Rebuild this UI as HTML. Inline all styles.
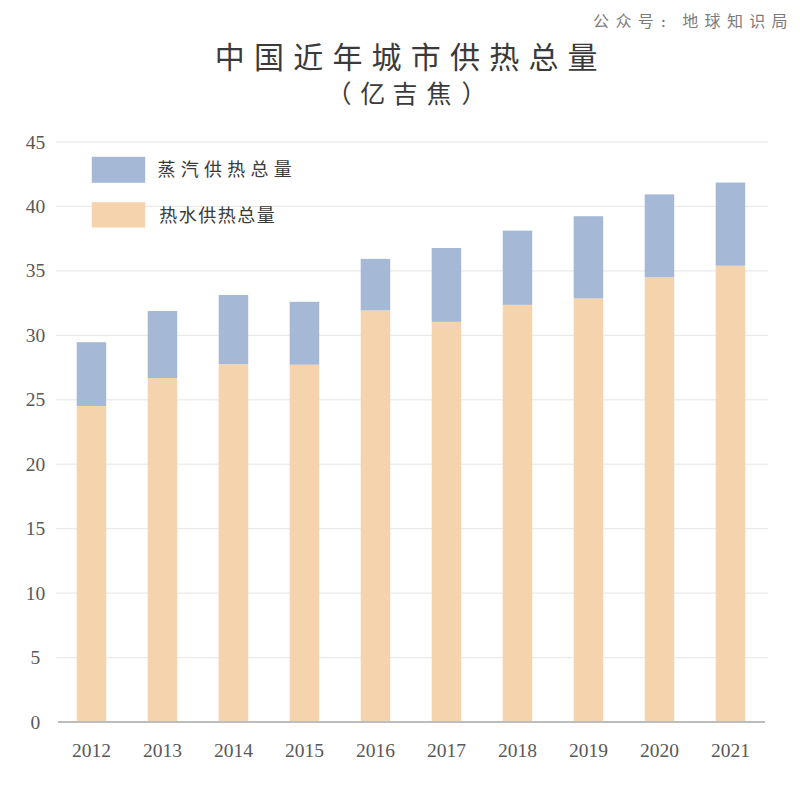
<!DOCTYPE html>
<html><head><meta charset="utf-8"><style>
html,body{margin:0;padding:0;background:#fff;width:800px;height:798px;overflow:hidden}
svg{display:block}
.ax{font-family:"Liberation Serif",serif;font-size:19.5px;fill:#585858}
.zh{font-family:"Liberation Serif","Noto Sans CJK SC",serif}
</style></head><body>
<svg width="800" height="798" viewBox="0 0 800 798">
<rect width="800" height="798" fill="#fff"/>
<rect x="56" width="712" y="656.96" height="1.2" fill="#e9e9e9"/><rect x="56" width="712" y="592.51" height="1.2" fill="#e9e9e9"/><rect x="56" width="712" y="528.07" height="1.2" fill="#e9e9e9"/><rect x="56" width="712" y="463.62" height="1.2" fill="#e9e9e9"/><rect x="56" width="712" y="399.18" height="1.2" fill="#e9e9e9"/><rect x="56" width="712" y="334.73" height="1.2" fill="#e9e9e9"/><rect x="56" width="712" y="270.29" height="1.2" fill="#e9e9e9"/><rect x="56" width="712" y="205.84" height="1.2" fill="#e9e9e9"/><rect x="56" width="712" y="141.40" height="1.2" fill="#e9e9e9"/>
<rect x="76.70" y="342.2" width="29.5" height="63.80" fill="#a5b9d7"/><rect x="76.70" y="406" width="29.5" height="316.00" fill="#f5d3ad"/><rect x="147.70" y="311" width="29.5" height="67.00" fill="#a5b9d7"/><rect x="147.70" y="378" width="29.5" height="344.00" fill="#f5d3ad"/><rect x="218.70" y="295" width="29.5" height="69.50" fill="#a5b9d7"/><rect x="218.70" y="364.5" width="29.5" height="357.50" fill="#f5d3ad"/><rect x="289.70" y="301.8" width="29.5" height="63.00" fill="#a5b9d7"/><rect x="289.70" y="364.8" width="29.5" height="357.20" fill="#f5d3ad"/><rect x="360.70" y="258.9" width="29.5" height="51.70" fill="#a5b9d7"/><rect x="360.70" y="310.6" width="29.5" height="411.40" fill="#f5d3ad"/><rect x="431.70" y="248.0" width="29.5" height="73.90" fill="#a5b9d7"/><rect x="431.70" y="321.9" width="29.5" height="400.10" fill="#f5d3ad"/><rect x="502.70" y="230.6" width="29.5" height="74.30" fill="#a5b9d7"/><rect x="502.70" y="304.9" width="29.5" height="417.10" fill="#f5d3ad"/><rect x="573.70" y="216.2" width="29.5" height="82.40" fill="#a5b9d7"/><rect x="573.70" y="298.6" width="29.5" height="423.40" fill="#f5d3ad"/><rect x="644.70" y="194.4" width="29.5" height="83.20" fill="#a5b9d7"/><rect x="644.70" y="277.6" width="29.5" height="444.40" fill="#f5d3ad"/><rect x="715.70" y="182.5" width="29.5" height="83.30" fill="#a5b9d7"/><rect x="715.70" y="265.8" width="29.5" height="456.20" fill="#f5d3ad"/>
<rect x="58" width="707" y="721" height="2" fill="#bdbdbd"/>
<text x="35.4" y="728.60" class="ax" text-anchor="middle">0</text><text x="35.4" y="664.16" class="ax" text-anchor="middle">5</text><text x="35.4" y="599.71" class="ax" text-anchor="middle">10</text><text x="35.4" y="535.27" class="ax" text-anchor="middle">15</text><text x="35.4" y="470.82" class="ax" text-anchor="middle">20</text><text x="35.4" y="406.38" class="ax" text-anchor="middle">25</text><text x="35.4" y="341.93" class="ax" text-anchor="middle">30</text><text x="35.4" y="277.49" class="ax" text-anchor="middle">35</text><text x="35.4" y="213.04" class="ax" text-anchor="middle">40</text><text x="35.4" y="148.60" class="ax" text-anchor="middle">45</text>
<text x="91.45" y="757" class="ax" text-anchor="middle">2012</text><text x="162.45" y="757" class="ax" text-anchor="middle">2013</text><text x="233.45" y="757" class="ax" text-anchor="middle">2014</text><text x="304.45" y="757" class="ax" text-anchor="middle">2015</text><text x="375.45" y="757" class="ax" text-anchor="middle">2016</text><text x="446.45" y="757" class="ax" text-anchor="middle">2017</text><text x="517.45" y="757" class="ax" text-anchor="middle">2018</text><text x="588.45" y="757" class="ax" text-anchor="middle">2019</text><text x="659.45" y="757" class="ax" text-anchor="middle">2020</text><text x="730.45" y="757" class="ax" text-anchor="middle">2021</text>
<rect x="91.8" y="156.8" width="53.4" height="26" fill="#a5b9d7"/>
<rect x="91.8" y="202.2" width="53.4" height="25.4" fill="#f5d3ad"/>
<text x="166.40 189.65 212.90 236.15 259.40 282.65" y="176" class="zh" font-size="18" fill="#3a3a3a" text-anchor="middle" font-weight="400">蒸汽供热总量</text>
<text x="168.30 187.80 207.30 226.80 246.30 265.80" y="222" class="zh" font-size="18" fill="#3a3a3a" text-anchor="middle" font-weight="400">热水供热总量</text>
<text x="229.80 269.00 308.20 347.40 386.60 425.80 465.00 504.20 543.40 582.60" y="68" class="zh" font-size="30" fill="#3a3a3a" text-anchor="middle" font-weight="400">中国近年城市供热总量</text>
<text x="339.10 372.70 405.00 439.00 473.90" y="103" class="zh" font-size="25" fill="#3a3a3a" text-anchor="middle" font-weight="400">（亿吉焦）</text>
<text x="601.10 623.40 645.70" y="27" class="zh" font-size="16" fill="#7c7c7c" text-anchor="middle" font-weight="400">公众号</text><text x="666.00" y="26.8" class="zh" font-size="10.5" fill="#7c7c7c" text-anchor="middle" font-weight="900">：</text><text x="690.30 712.60 734.90 757.20 779.50" y="27" class="zh" font-size="16" fill="#7c7c7c" text-anchor="middle" font-weight="400">地球知识局</text>
</svg>
</body></html>
